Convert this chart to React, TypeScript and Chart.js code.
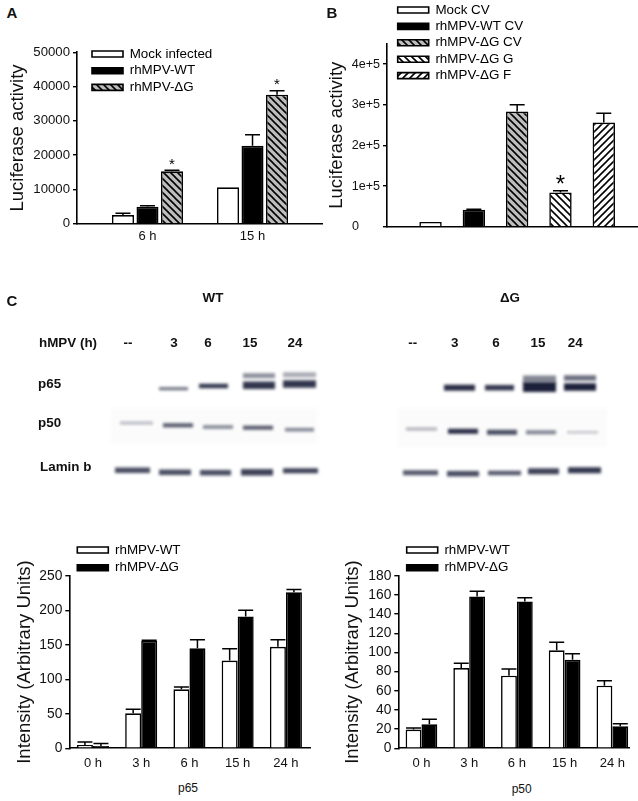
import React, { useEffect, useRef } from "react";
import { Chart, registerables } from "chart.js";

Chart.register(...registerables);

const FONT = '"Liberation Sans", Arial, sans-serif';

// Panel A
const timesA = ["6 h", "15 h"];
const seriesNamesA = ["Mock infected", "rhMPV-WT", "rhMPV-ΔG"];
const mockA = [2530, 10600];
const wtA = [4960, 22770];
const dgA = [15270, 37650];
const mockTopA = [3016, 10600];
const wtTopA = [5250, 25980];
const dgTopA = [15560, 38820];
const starsA = [true, true];
const yTicksA = [0, 10000, 20000, 30000, 40000, 50000];

// Panel B
const seriesNamesB = ["Mock CV", "rhMPV-WT CV", "rhMPV-ΔG CV", "rhMPV-ΔG G", "rhMPV-ΔG F"];
const valuesB = [11500, 41800, 283000, 84400, 256000];
const topsB = [11500, 43000, 300000, 88500, 279000];
const starsB = [false, false, false, true, false];
const yTicksB = [0, 100000, 200000, 300000, 400000];

// Panel C, quantification
const timesC = ["0 h", "3 h", "6 h", "15 h", "24 h"];
const seriesNamesC = ["rhMPV-WT", "rhMPV-ΔG"];
const p65Wt = [4.8, 50.7, 85.4, 127, 147];
const p65Dg = [3.4, 155.4, 144.8, 191, 225.9];
const p65WtTop = [9, 56.5, 88.8, 144.3, 157.3];
const p65DgTop = [6.8, 156.4, 157.3, 199.8, 230];
const p50Wt = [19.5, 83.7, 75.7, 102.2, 65.3];
const p50Dg = [25, 158.4, 153.2, 92.4, 22.9];
const p50WtTop = [21.2, 88.6, 82.7, 110.5, 70.5];
const p50DgTop = [30.2, 163.7, 157, 98.7, 25.7];
const yTicksP65 = [0, 50, 100, 150, 200, 250];
const yTicksP50 = [0, 20, 40, 60, 80, 100, 120, 140, 160, 180];

// Blot bands: from, to, height on the gel, thickness, density
const wtBackground = [[111, 317, 425.5, 35, 0.018]];
const wtP65 = [
  [159, 188, 388.7, 3, 0.65], [199, 228, 386, 4.5, 0.9],
  [243, 275, 375.7, 5, 0.5], [243, 275, 385.3, 7.5, 0.9],
  [283, 316, 374.7, 5, 0.38], [283, 316, 384, 7.5, 0.9],
];
const wtP50 = [
  [120, 153, 423, 3, 0.3], [163, 193, 425.3, 4, 0.75], [203, 233, 427, 3.5, 0.55],
  [243, 273, 427.7, 4, 0.75], [285, 314, 429.7, 3.5, 0.55],
];
const wtLamin = [
  [115, 150, 470.3, 5.5, 0.8], [159, 191, 472.3, 5.5, 0.8], [200, 231, 472.7, 5.5, 0.8],
  [241, 273, 472.3, 6.5, 0.85], [283, 318, 470.7, 5, 0.85],
];
const dgBackground = [[398, 607, 427.5, 39, 0.018]];
const dgP65 = [
  [444, 475, 387.7, 6, 0.95], [485, 514, 387.7, 5.5, 0.9],
  [523, 556, 379, 7, 0.55], [523, 556, 387, 10, 1],
  [564, 596, 378, 5.5, 0.65], [564, 596, 387, 7.5, 1],
];
const dgP50 = [
  [406, 437, 429, 3, 0.35], [448, 478, 431.3, 5, 0.95], [487, 517, 432.3, 5, 0.8],
  [526, 556, 432.3, 4, 0.55], [567, 598, 432.3, 2.5, 0.25],
];
const dgLamin = [
  [403, 438, 472.7, 5, 0.75], [447, 479, 473.7, 5.5, 0.8], [488, 521, 473, 4.5, 0.75],
  [528, 559, 471.3, 6, 0.85], [568, 601, 470.3, 6, 0.9],
];

const laneLabels = ["--", "3", "6", "15", "24"];
const wtLaneCentres = [128, 174, 208, 250, 295];
const dgLaneCentres = [412.7, 454.7, 496, 538, 575.3];

function hatch(direction: "\\" | "/", background: string) {
  const n = 7;
  const tile = document.createElement("canvas");
  tile.width = n;
  tile.height = n;
  const c = tile.getContext("2d")!;
  c.fillStyle = background;
  c.fillRect(0, 0, n, n);
  c.strokeStyle = "#000";
  c.lineWidth = 1.6;
  for (let o = -n; o <= n; o += n) {
    c.beginPath();
    if (direction === "\\") {
      c.moveTo(o - 1, -1);
      c.lineTo(o + n + 1, n + 1);
    } else {
      c.moveTo(o + n + 1, -1);
      c.lineTo(o - 1, n + 1);
    }
    c.stroke();
  }
  return c.createPattern(tile, "repeat")!;
}

const errorBars = {
  id: "errorBars",
  afterDatasetsDraw(chart: any) {
    const { ctx } = chart;
    const y = chart.scales.y;
    chart.data.datasets.forEach((ds: any, di: number) => {
      const meta = chart.getDatasetMeta(di);
      meta.data.forEach((bar: any, i: number) => {
        const top = y.getPixelForValue(ds.tops[i]);
        ctx.save();
        ctx.strokeStyle = "#000";
        ctx.lineWidth = 1.5;
        if (ds.tops[i] > ds.data[i].y) {
          ctx.beginPath();
          ctx.moveTo(bar.x, bar.y);
          ctx.lineTo(bar.x, top);
          ctx.moveTo(bar.x - 7.5, top);
          ctx.lineTo(bar.x + 7.5, top);
          ctx.stroke();
        }
        if (ds.stars && ds.stars[i]) {
          ctx.fillStyle = "#000";
          ctx.textAlign = "center";
          ctx.textBaseline = "alphabetic";
          ctx.font = `${ds.starSize}px ${FONT}`;
          ctx.fillText("*", bar.x, top - ds.starGap + 0.58 * ds.starSize);
        }
        ctx.restore();
      });
    });
  },
};

const placeLegend = {
  id: "placeLegend",
  afterLayout(chart: any) {
    const at = chart.options.plugins.placeLegend;
    const lg = chart.legend;
    const pad = chart.options.plugins.legend.labels.padding;
    lg.left = at.x - pad;
    lg.top = at.y - 6.7 - pad;
    lg.right = chart.width;
    lg.bottom = chart.height;
  },
};

function barChart(canvas: HTMLCanvasElement, p: any) {
  return new Chart(canvas, {
    type: "bar",
    data: {
      labels: p.labels,
      datasets: p.datasets.map((d: any) => ({
        ...d,
        data: d.values.map((y: number, i: number) => ({ x: i, y })),
        borderColor: "#000",
        borderWidth: 1.6,
        categoryPercentage: p.catPct,
        barPercentage: p.barPct,
      })),
    },
    plugins: [errorBars, placeLegend],
    options: {
      animation: false,
      responsive: false,
      layout: { padding: { top: p.plotTop - p.top, left: 0, right: 0, bottom: 0 } },
      scales: {
        x: {
          type: "linear",
          offset: false,
          min: p.xMin,
          max: p.xMax,
          afterFit: (s: any) => {
            s.height = p.h - (p.plotBottom - p.top);
          },
          afterBuildTicks: (s: any) => {
            s.ticks = p.labels.map((_: string, i: number) => ({ value: i }));
          },
          grid: { display: false, offset: false, drawTicks: false },
          border: { display: true, color: "#000", width: 1.6 },
          ticks: {
            display: p.showXLabels,
            autoSkip: false,
            maxRotation: 0,
            padding: p.xPad,
            color: "#111",
            font: { family: FONT, size: 13 },
            callback: (v: any) => p.labels[v],
          },
        },
        y: {
          min: 0,
          max: p.yMax,
          afterFit: (s: any) => {
            s.width = p.plotLeft - p.left;
          },
          afterBuildTicks: (s: any) => {
            s.ticks = p.yTicks.map((value: number) => ({ value }));
          },
          grid: { display: true, drawOnChartArea: false, drawTicks: true, tickLength: 4, color: "#000", lineWidth: 1.4 },
          border: { display: true, color: "#000", width: 1.6 },
          ticks: {
            autoSkip: false,
            padding: 3,
            color: "#111",
            font: { family: FONT, size: p.yFont },
            callback: p.yFormat,
          },
          title: {
            display: true,
            text: p.yTitle,
            color: "#111",
            font: { family: FONT, size: 18.5 },
            padding: { top: p.titleOffset, bottom: 0 },
          },
        },
      },
      plugins: {
        tooltip: { enabled: false },
        placeLegend: { x: p.legendX - p.left, y: p.legendY - p.top },
        legend: {
          display: true,
          position: "chartArea",
          align: "start",
          labels: {
            boxWidth: p.swatchW,
            boxHeight: 6,
            padding: p.legendPad,
            color: "#111",
            font: { family: FONT, size: 13.4 },
            generateLabels: () =>
              p.legendItems.map((it: any, i: number) => ({
                text: it.text,
                fillStyle: it.fill,
                strokeStyle: "#000",
                lineWidth: 1.6,
                hidden: false,
                datasetIndex: 0,
                index: i,
              })),
          },
        },
      },
    } as any,
  });
}

function blotChart(canvas: HTMLCanvasElement, groups: number[][][]) {
  const bands = groups.flat();
  return new Chart(canvas, {
    type: "line",
    data: {
      datasets: bands.map(([from, to, y, thick, density]) => ({
        data: [{ x: from, y }, { x: to, y }],
        borderColor: `rgba(28,32,58,${density})`,
        borderWidth: thick,
        pointRadius: 0,
        clip: false,
      })),
    },
    plugins: [
      {
        id: "gelBlur",
        beforeDatasetsDraw(chart: any) {
          chart.ctx.filter = "blur(1.4px)";
        },
        afterDatasetsDraw(chart: any) {
          chart.ctx.filter = "none";
        },
      },
    ],
    options: {
      animation: false,
      responsive: false,
      layout: { padding: 0 },
      scales: {
        x: { type: "linear", display: false, min: 0, max: 638 },
        y: { type: "linear", display: false, min: 280, max: 500, reverse: true },
      },
      plugins: { legend: { display: false }, tooltip: { enabled: false } },
    } as any,
  });
}

const canvasStyle = (left: number, top: number, w: number, h: number): React.CSSProperties => ({
  position: "absolute",
  left,
  top,
  width: w,
  height: h,
});

function Label(props: { x: number; y: number; text: string; size?: number; bold?: boolean; align?: "left" | "center" }) {
  const { x, y, text, size = 13.4, bold = true, align = "center" } = props;
  return (
    <span
      style={{
        position: "absolute",
        left: x,
        top: y,
        transform: align === "center" ? "translate(-50%,-50%)" : "translateY(-50%)",
        font: `${bold ? "bold " : ""}${size}px ${FONT}`,
        color: "#111",
        whiteSpace: "nowrap",
      }}
    >
      {text}
    </span>
  );
}

export default function App() {
  const a = useRef<HTMLCanvasElement>(null);
  const b = useRef<HTMLCanvasElement>(null);
  const blot = useRef<HTMLCanvasElement>(null);
  const c1 = useRef<HTMLCanvasElement>(null);
  const c2 = useRef<HTMLCanvasElement>(null);

  useEffect(() => {
    const greyBack = hatch("\\", "#bdbdbd");
    const whiteBack = hatch("\\", "#fff");
    const whiteFwd = hatch("/", "#fff");
    const plain = (v: any) => String(v);

    const charts = [
      barChart(a.current!, {
        left: 0, top: 30, w: 323, h: 230, plotLeft: 77, plotTop: 52.3, plotBottom: 223.7,
        xMin: -0.671, xMax: 1.671, catPct: 0.7, barPct: 0.898, labels: timesA, showXLabels: true, xPad: 5,
        yMax: 50000, yTicks: yTicksA, yFont: 13.2, yFormat: plain, yTitle: "Luciferase activity", titleOffset: 6.5,
        legendX: 92, legendY: 54, legendPad: 3.3, swatchW: 31,
        legendItems: [
          { text: seriesNamesA[0], fill: "#fff" },
          { text: seriesNamesA[1], fill: "#000" },
          { text: seriesNamesA[2], fill: greyBack },
        ],
        datasets: [
          { values: mockA, tops: mockTopA, backgroundColor: "#fff" },
          { values: wtA, tops: wtTopA, backgroundColor: "#000" },
          { values: dgA, tops: dgTopA, backgroundColor: greyBack, stars: starsA, starSize: 15, starGap: 10 },
        ],
      }),
      barChart(b.current!, {
        left: 320, top: 0, w: 318, h: 260, plotLeft: 387, plotTop: 43.7, plotBottom: 226.7,
        xMin: -1.005, xMax: 4.79, catPct: 1, barPct: 0.517, labels: seriesNamesB, showXLabels: false, xPad: 5,
        yMax: 450000, yTicks: yTicksB, yFont: 12.6,
        yFormat: (v: number) => (v === 0 ? "0\u00a0\u00a0\u00a0\u00a0\u00a0\u00a0" : `${v / 100000}e+5`),
        yTitle: "Luciferase activity", titleOffset: 6,
        legendX: 397.7, legendY: 10, legendPad: 3, swatchW: 31,
        legendItems: [
          { text: seriesNamesB[0], fill: "#fff" },
          { text: seriesNamesB[1], fill: "#000" },
          { text: seriesNamesB[2], fill: greyBack },
          { text: seriesNamesB[3], fill: whiteBack },
          { text: seriesNamesB[4], fill: whiteFwd },
        ],
        datasets: [
          {
            values: valuesB,
            tops: topsB,
            backgroundColor: ["#fff", "#000", greyBack, whiteBack, whiteFwd],
            stars: starsB,
            starSize: 24,
            starGap: 12.7,
          },
        ],
      }),
      barChart(c1.current!, {
        left: 0, top: 530, w: 311, h: 250, plotLeft: 69.3, plotTop: 575.7, plotBottom: 748.3,
        xMin: -0.49, xMax: 4.52, catPct: 0.664, barPct: 1, labels: timesC, showXLabels: true, xPad: 7,
        yMax: 250, yTicks: yTicksP65, yFont: 13.8, yFormat: plain, yTitle: "Intensity (Arbitrary Units)", titleOffset: 14,
        legendX: 77.3, legendY: 550, legendPad: 4.4, swatchW: 31,
        legendItems: [
          { text: seriesNamesC[0], fill: "#fff" },
          { text: seriesNamesC[1], fill: "#000" },
        ],
        datasets: [
          { values: p65Wt, tops: p65WtTop, backgroundColor: "#fff" },
          { values: p65Dg, tops: p65DgTop, backgroundColor: "#000" },
        ],
      }),
      barChart(c2.current!, {
        left: 320, top: 530, w: 312, h: 250, plotLeft: 398.3, plotTop: 575.7, plotBottom: 748.3,
        xMin: -0.485, xMax: 4.36, catPct: 0.664, barPct: 1, labels: timesC, showXLabels: true, xPad: 7,
        yMax: 180, yTicks: yTicksP50, yFont: 13.8, yFormat: plain, yTitle: "Intensity (Arbitrary Units)", titleOffset: 22,
        legendX: 406.7, legendY: 550, legendPad: 4.4, swatchW: 31,
        legendItems: [
          { text: seriesNamesC[0], fill: "#fff" },
          { text: seriesNamesC[1], fill: "#000" },
        ],
        datasets: [
          { values: p50Wt, tops: p50WtTop, backgroundColor: "#fff" },
          { values: p50Dg, tops: p50DgTop, backgroundColor: "#000" },
        ],
      }),
      blotChart(blot.current!, [wtBackground, dgBackground, wtP65, wtP50, wtLamin, dgP65, dgP50, dgLamin]),
    ];
    return () => charts.forEach((ch) => ch.destroy());
  }, []);

  return (
    <div style={{ position: "absolute", left: 0, top: 0, width: 638, height: 801, overflow: "hidden", background: "#fff" }}>
      <canvas ref={blot} width={638} height={220} style={canvasStyle(0, 280, 638, 220)} />
      <canvas ref={a} width={323} height={230} style={canvasStyle(0, 30, 323, 230)} />
      <canvas ref={b} width={318} height={260} style={canvasStyle(320, 0, 318, 260)} />
      <canvas ref={c1} width={311} height={250} style={canvasStyle(0, 530, 311, 250)} />
      <canvas ref={c2} width={312} height={250} style={canvasStyle(320, 530, 312, 250)} />
      <Label x={12} y={12} text="A" size={15} />
      <Label x={332} y={12} text="B" size={15} />
      <Label x={12} y={300} text="C" size={15} />
      <Label x={213} y={297} text="WT" />
      <Label x={510} y={297} text="ΔG" />
      <Label x={39} y={342} text="hMPV (h)" align="left" />
      {laneLabels.map((t, i) => (
        <Label key={"w" + i} x={wtLaneCentres[i]} y={342} text={t} />
      ))}
      {laneLabels.map((t, i) => (
        <Label key={"d" + i} x={dgLaneCentres[i]} y={342} text={t} />
      ))}
      <Label x={38} y={383.3} text="p65" align="left" />
      <Label x={38} y={422} text="p50" align="left" />
      <Label x={40} y={465.5} text="Lamin b" align="left" />
      <Label x={188} y={788} text="p65" bold={false} size={12} />
      <Label x={521.7} y={789} text="p50" bold={false} size={12} />
    </div>
  );
}
